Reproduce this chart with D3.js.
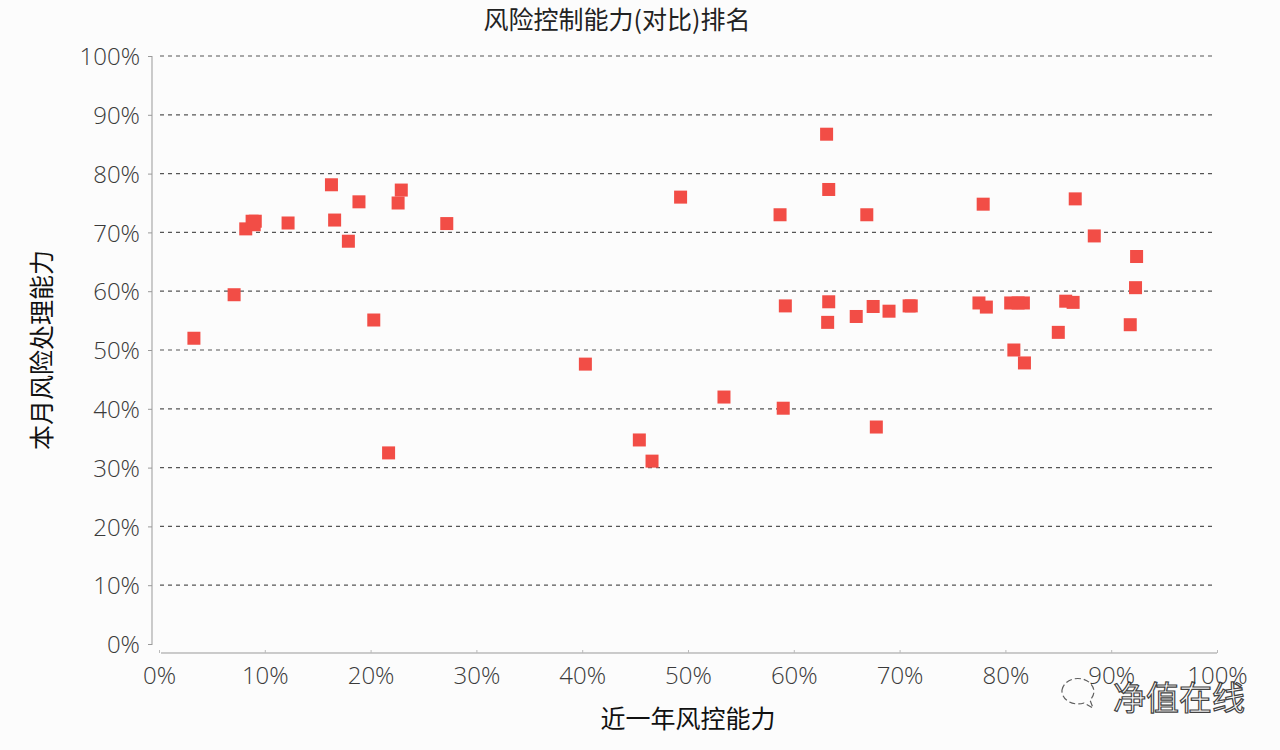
<!DOCTYPE html>
<html><head><meta charset="utf-8">
<script src="https://cdn.jsdelivr.net/npm/d3@7/dist/d3.min.js"></script>
<style>
html,body{margin:0;padding:0;background:#fcfcfc;}
svg{display:block;font-family:"Noto Sans CJK SC","Noto Sans",sans-serif;}
</style></head>
<body>
<svg id="c" width="1280" height="750"></svg>
<script>
const title = "风险控制能力(对比)排名";
const xLabel = "近一年风控能力";
const yLabel = "本月风险处理能力";
const xTicks = [0,0.1,0.2,0.3,0.4,0.5,0.6,0.7,0.8,0.9,1.0];
const yTicks = [0,0.1,0.2,0.3,0.4,0.5,0.6,0.7,0.8,0.9,1.0];
const xValues = [0.033,0.071,0.082,0.088,0.091,0.090,0.122,0.163,0.166,0.179,0.189,0.203,0.217,0.226,0.229,0.272,
  0.403,0.454,0.466,0.493,0.534,0.587,0.592,0.590,0.631,0.633,0.633,0.632,0.659,0.669,0.675,0.678,0.690,0.709,0.711,
  0.775,0.779,0.782,0.805,0.808,0.812,0.817,0.818,0.850,0.857,0.864,0.866,0.884,0.918,0.923,0.924];
const yValues = [0.520,0.594,0.706,0.719,0.719,0.713,0.716,0.781,0.721,0.685,0.752,0.551,0.325,0.750,0.772,0.715,
  0.476,0.347,0.311,0.760,0.420,0.730,0.575,0.401,0.867,0.773,0.582,0.547,0.557,0.730,0.574,0.369,0.566,0.575,0.575,
  0.580,0.748,0.573,0.580,0.500,0.580,0.580,0.478,0.530,0.583,0.581,0.757,0.694,0.543,0.606,0.659];

const svg = d3.select("#c");
const x = d3.scaleLinear().domain([0,1]).range([159,1217]);
const y = d3.scaleLinear().domain([0,1]).range([644,56]);
const pct = d => Math.round(d*100) + "%";

// title
svg.append("text").attr("x",617).attr("y",29).attr("text-anchor","middle")
  .attr("font-size",25).attr("fill","#222").text(title);

// gridlines
svg.append("g").selectAll("line").data(yTicks.filter(d=>d>0)).join("line")
  .attr("x1",160).attr("x2",1215).attr("y1",d=>y(d)).attr("y2",d=>y(d))
  .attr("stroke","#555").attr("stroke-width",1.2).attr("stroke-dasharray","4,4");

// y axis
const yAxis = d3.axisLeft(y).tickValues(yTicks).tickFormat(pct).tickSize(4).tickPadding(8);
const gy = svg.append("g").attr("transform","translate(152,0)").call(yAxis);
gy.select(".domain").attr("stroke","#999").attr("d","M-0,56V645");
gy.selectAll(".tick line").attr("stroke","#999");
gy.selectAll(".tick text").attr("font-size",24).attr("fill","#3a3a3a")
  .attr("font-family","'Open Sans','DejaVu Sans',sans-serif").attr("font-weight",300).attr("dy","0.36em");

// x axis
const xAxis = d3.axisBottom(x).tickValues(xTicks).tickFormat(pct).tickSize(-3).tickPadding(14);
const gx = svg.append("g").attr("transform","translate(0,653)").call(xAxis);
gx.select(".domain").attr("stroke","#999").attr("d","M161,0H1217");
gx.selectAll(".tick line").attr("stroke","#bbb");
gx.selectAll(".tick text").attr("font-size",24).attr("fill","#3a3a3a")
  .attr("font-family","'Open Sans','DejaVu Sans',sans-serif").attr("font-weight",300);

// axis labels
svg.append("text").attr("x",688).attr("y",728).attr("text-anchor","middle")
  .attr("font-size",25).attr("fill","#111").text(xLabel);
svg.append("text").attr("transform","translate(51,350) rotate(-90)").attr("text-anchor","middle")
  .attr("font-size",25).attr("fill","#111").text(yLabel);

// points
const s = 13;
svg.append("g").selectAll("rect").data(xValues.map((v,i)=>[v,yValues[i]])).join("rect")
  .attr("x",d=>x(d[0])-s/2).attr("y",d=>y(d[1])-s/2).attr("width",s).attr("height",s)
  .attr("fill","#f24d46");

// watermark
const wm = svg.append("g").attr("opacity",0.85);
wm.append("path").attr("d","M1062,690 a16,13 0 1,1 28,10 l3,8 l-9,-5 a16,13 0 0,1 -22,-13z")
  .attr("fill","none").attr("stroke","#444").attr("stroke-width",1.2).attr("stroke-dasharray","6,3");
wm.append("text").attr("x",1113).attr("y",710).attr("font-size",33)
  .attr("fill","#fff").attr("stroke","#222").attr("stroke-width",1.2).text("净值在线");
</script>
</body></html>
